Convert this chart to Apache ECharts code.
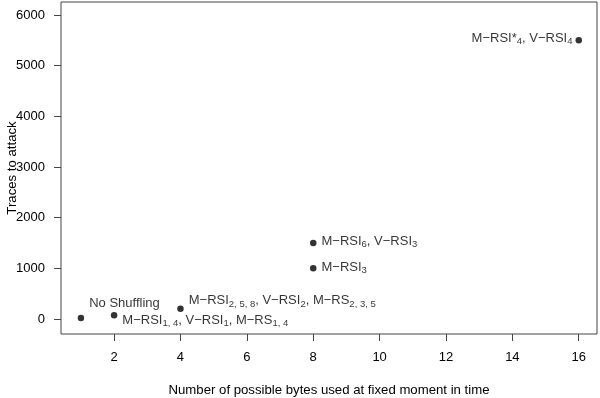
<!DOCTYPE html>
<html>
<head>
<meta charset="utf-8">
<script src="https://cdn.jsdelivr.net/npm/echarts@6/dist/echarts.min.js"></script>
<style>
  html, body { margin: 0; padding: 0; background: #fff; }
  #chart { width: 600px; height: 398px; }
</style>
</head>
<body>
<div id="chart"></div>
<script>
// values
const bytesUsed = [1, 2, 4, 8, 8, 16];
const tracesToAttack = [20, 75, 200, 1000, 1500, 5500];
// _{..} marks a subscript
const pointLabels = [
  'No Shuffling',
  'M−RSI_{1, 4}, V−RSI_{1}, M−RS_{1, 4}',
  'M−RSI_{2, 5, 8}, V−RSI_{2}, M−RS_{2, 3, 5}',
  'M−RSI_{3}',
  'M−RSI_{6}, V−RSI_{3}',
  'M−RSI*_{4}, V−RSI_{4}'
];
const xTicks = [2, 4, 6, 8, 10, 12, 14, 16];
const yTicks = [0, 1000, 2000, 3000, 4000, 5000, 6000];

// label placement, per point: [position, offsetX, offsetY]
const labelPlace = [
  ['right', 0, -15],
  ['right', 0, 5],
  ['right', 0, -8],
  ['right', 0, -1],
  ['right', 0, -2],
  ['left', 2, -2]
];

const font = 'Liberation Sans, Arial, Helvetica, sans-serif';

// turn "M−RSI_{1, 4}" into rich text tokens
function toRich(str) {
  let out = '';
  const re = /_\{([^}]*)\}/g;
  let last = 0, m;
  while ((m = re.exec(str)) !== null) {
    if (m.index > last) out += '{t|' + str.slice(last, m.index) + '}';
    out += '{s|' + m[1] + '}';
    last = re.lastIndex;
  }
  if (last < str.length) out += '{t|' + str.slice(last) + '}';
  return out;
}

const data = bytesUsed.map((x, i) => {
  const p = labelPlace[i];
  return {
    value: [x, tracesToAttack[i]],
    label: {
      show: true,
      position: p[0],
      distance: 5,
      offset: [p[1], p[2]],
      formatter: toRich(pointLabels[i])
    }
  };
});

const chart = echarts.init(document.getElementById('chart'));
chart.setOption({
  animation: false,
  backgroundColor: '#fff',
  grid: {
    left: 61, right: 3, top: 2, bottom: 64,
    containLabel: false,
    outerBoundsMode: 'none',
    show: true, borderColor: '#444', borderWidth: 1,
    backgroundColor: 'transparent'
  },
  xAxis: {
    type: 'value',
    min: 0.4, max: 16.55,
    name: 'Number of possible bytes used at fixed moment in time',
    nameLocation: 'middle',
    nameGap: 50,
    nameMoveOverlap: false,
    nameTextStyle: { fontFamily: font, fontSize: 13.2, color: '#000' },
    axisLine: { show: false, onZero: false },
    axisTick: { show: true, length: 7, customValues: xTicks, lineStyle: { color: '#444' } },
    axisLabel: { customValues: xTicks, margin: 17, fontFamily: font, fontSize: 13, color: '#000' },
    splitLine: { show: false }
  },
  yAxis: {
    type: 'value',
    min: -296, max: 6257,
    name: 'Traces to attack',
    nameLocation: 'middle',
    nameRotate: 90,
    nameGap: 42,
    nameMoveOverlap: false,
    nameTextStyle: { fontFamily: font, fontSize: 13.2, color: '#000' },
    axisLine: { show: false, onZero: false },
    axisTick: { show: true, length: 7, customValues: yTicks, lineStyle: { color: '#444' } },
    axisLabel: {
      customValues: yTicks, margin: 16, fontFamily: font, fontSize: 13, color: '#000',
      formatter: v => String(v)
    },
    splitLine: { show: false }
  },
  series: [{
    type: 'scatter',
    symbol: 'circle',
    symbolSize: 6.5,
    itemStyle: { color: '#000' },
    label: {
      color: '#000',
      fontFamily: font,
      rich: {
        t: { fontFamily: font, fontSize: 13, lineHeight: 17, color: '#000' },
        s: { fontFamily: font, fontSize: 9.5, lineHeight: 10, verticalAlign: 'bottom', color: '#000' }
      }
    },
    data: data
  }]
});
</script>
</body>
</html>
